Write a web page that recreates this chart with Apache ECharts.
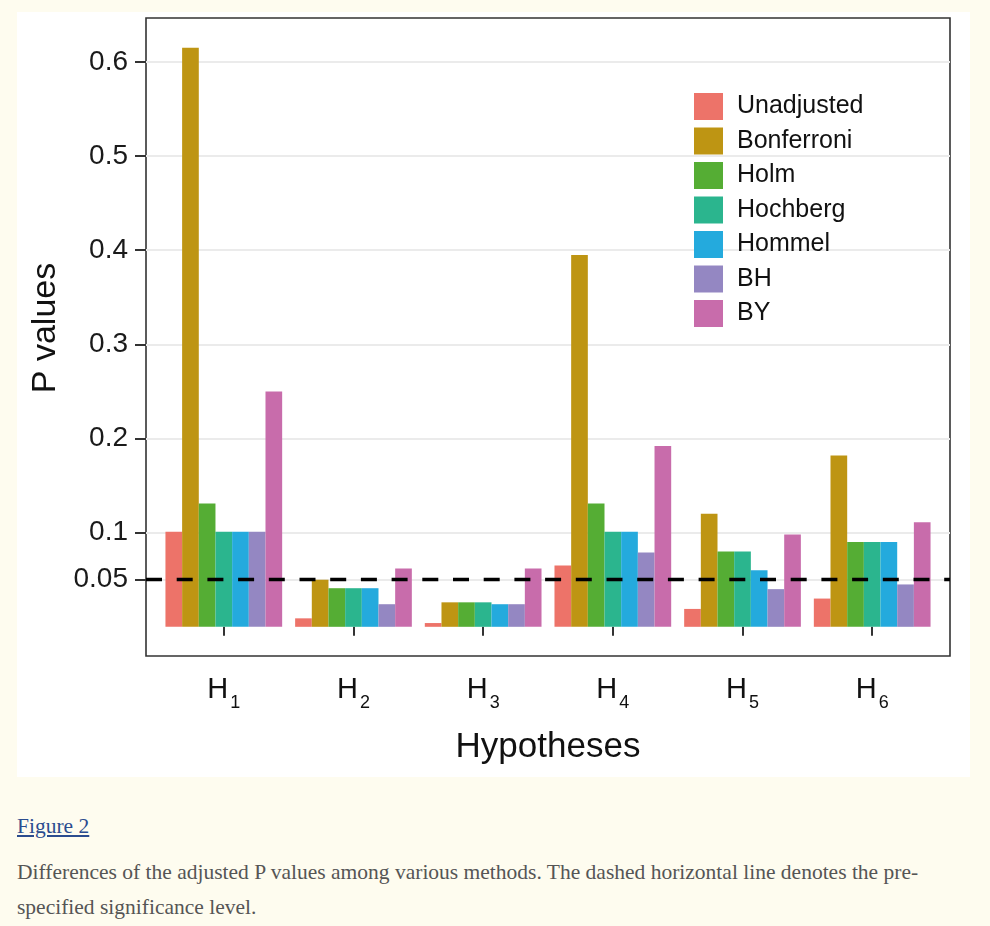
<!DOCTYPE html>
<html>
<head>
<meta charset="utf-8">
<script src="https://cdn.jsdelivr.net/npm/echarts@6/dist/echarts.min.js"></script>
<style>
  html, body { margin: 0; padding: 0; background: #FEFCEF; width: 990px; height: 926px; overflow: hidden; }
  #panel { position: absolute; left: 17px; top: 12px; width: 953px; height: 765px; background: #ffffff; }
  #chart { position: absolute; left: 0; top: 0; width: 990px; height: 790px; }
  .cap { position: absolute; left: 17px; font-family: "Liberation Serif", "Times New Roman", serif; font-size: 21.5px; color: #555; }
  #fig { top: 814px; color: #2B4C8F; text-decoration: underline; }
  #desc { top: 855px; line-height: 35px; }
</style>
</head>
<body>
<div id="panel"></div>
<div id="chart"></div>
<div class="cap" id="fig">Figure 2</div>
<div class="cap" id="desc">Differences of the adjusted P values among various methods. The dashed horizontal line denotes the pre-<br>specified significance level.</div>
<script>
const categories = ['H1', 'H2', 'H3', 'H4', 'H5', 'H6'];
const methods = ['Unadjusted', 'Bonferroni', 'Holm', 'Hochberg', 'Hommel', 'BH', 'BY'];
const colors = ['#ED7369', '#BE9513', '#55AD34', '#2BB58E', '#24AADD', '#9487C2', '#C86CAB'];
const unadjusted = [0.101, 0.009, 0.004, 0.065, 0.019, 0.030];
const bonferroni = [0.615, 0.050, 0.026, 0.395, 0.120, 0.182];
const holm       = [0.131, 0.041, 0.026, 0.131, 0.080, 0.090];
const hochberg   = [0.101, 0.041, 0.026, 0.101, 0.080, 0.090];
const hommel     = [0.101, 0.041, 0.024, 0.101, 0.060, 0.090];
const bh         = [0.101, 0.024, 0.024, 0.079, 0.040, 0.045];
const by         = [0.250, 0.062, 0.062, 0.192, 0.098, 0.111];
const yTicks = [0.05, 0.1, 0.2, 0.3, 0.4, 0.5, 0.6];
const alpha = 0.05;
const yMin = -0.031, yMax = 0.6466;

const seriesData = [unadjusted, bonferroni, holm, hochberg, hommel, bh, by];

const chart = echarts.init(document.getElementById('chart'), null, { renderer: 'canvas' });

const panelLeft = 146, panelWidth = 804, panelTop = 18, panelHeight = 638;
const unit = panelWidth / (categories.length + 0.2);
const innerLeft = panelLeft + 0.1 * unit;
const innerWidth = unit * categories.length;

const series = methods.map((m, i) => ({
  name: m,
  type: 'bar',
  xAxisIndex: 0,
  yAxisIndex: 0,
  data: seriesData[i],
  barGap: '0%',
  barCategoryGap: '10%',
  itemStyle: { color: colors[i] },
  z: 2
}));
series.push({
  name: 'threshold',
  type: 'line',
  xAxisIndex: 1,
  yAxisIndex: 1,
  data: [],
  z: 10,
  markLine: {
    silent: true,
    symbol: 'none',
    label: { show: false },
    lineStyle: { color: '#000', width: 3.3, type: [16, 14.7] },
    data: [{ yAxis: alpha }]
  }
});

chart.setOption({
  animation: false,
  backgroundColor: 'transparent',
  textStyle: { fontFamily: 'Liberation Sans, Arial, sans-serif' },
  grid: [
    { left: innerLeft, top: panelTop, width: innerWidth, height: panelHeight, containLabel: false, outerBoundsMode: 'none' },
    { left: panelLeft, top: panelTop, width: panelWidth, height: panelHeight, show: true, borderColor: '#333', borderWidth: 1.6, backgroundColor: 'transparent', containLabel: false, outerBoundsMode: 'none' }
  ],
  legend: {
    orient: 'vertical',
    left: 694,
    top: 93,
    padding: 0,
    itemWidth: 29,
    itemHeight: 27,
    itemGap: 7.5,
    icon: 'rect',
    data: methods,
    textStyle: { fontSize: 25, color: '#111', padding: [3, 0, 0, 9] }
  },
  xAxis: [
    {
      type: 'category',
      gridIndex: 0,
      data: categories,
      axisLine: { show: false },
      axisTick: { show: true, alignWithLabel: true, length: 9, lineStyle: { color: '#333', width: 2 } },
      axisLabel: {
        margin: 12,
        formatter: v => '{h|H}{s|' + v.slice(1) + '}',
        rich: {
          h: { fontSize: 29, color: '#111', fontFamily: 'Liberation Sans' },
          s: { fontSize: 18, color: '#111', padding: [26, 0, 0, 2], fontFamily: 'Liberation Sans' }
        }
      },
      name: 'Hypotheses',
      nameLocation: 'middle',
      nameGap: 74,
      nameTextStyle: { fontSize: 35, color: '#111' }
    },
    {
      type: 'value',
      gridIndex: 1,
      min: 0, max: 1,
      show: false
    }
  ],
  yAxis: [
    {
      type: 'value',
      gridIndex: 0,
      min: yMin, max: yMax,
      show: false,
      splitLine: { show: false }
    },
    {
      type: 'value',
      gridIndex: 1,
      min: yMin, max: yMax,
      axisLine: { show: false },
      axisTick: { show: true, length: 11, customValues: yTicks, lineStyle: { color: '#333', width: 2 } },
      axisLabel: { customValues: yTicks, margin: 18, fontSize: 28, color: '#1a1a1a', formatter: v => String(v) },
      splitLine: { show: true, lineStyle: { color: '#EBEBEB', width: 2 } },
      name: 'P values',
      nameLocation: 'middle',
      nameGap: 79,
      nameTextStyle: { fontSize: 34, color: '#111', padding: [0, 0, 0, 18] }
    }
  ],
  series: series
});
</script>
</body>
</html>
